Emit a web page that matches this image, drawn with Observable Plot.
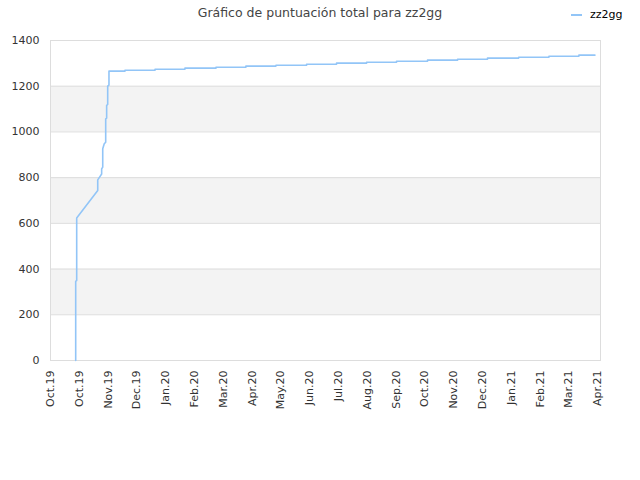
<!DOCTYPE html>
<html>
<head>
<meta charset="utf-8">
<script src="https://cdn.jsdelivr.net/npm/d3@7"></script>
<script src="https://cdn.jsdelivr.net/npm/@observablehq/plot@0.6"></script>
<style>
  html, body { margin: 0; padding: 0; background: #fff; }
  #wrap { position: relative; width: 640px; height: 480px; font-family: "DejaVu Sans", sans-serif; }
  #title { position: absolute; left: 0; top: 5px; width: 640px; text-align: center; font-size: 12.5px; color: #444; }
  #legend { position: absolute; left: 571px; top: 8px; font-size: 11px; color: #000; display: flex; align-items: center; }
  #legend .sw { width: 11px; height: 2px; background: #92c5f7; margin-right: 8px; }
  #chart { position: absolute; left: 0; top: 28px; }
</style>
</head>
<body>
<div id="wrap">
  <div id="title">Gráfico de puntuación total para zz2gg</div>
  <div id="legend"><span class="sw"></span><span>zz2gg</span></div>
  <div id="chart"></div>
</div>
<script>
const seriesName = "zz2gg";

// Early climb (timestamps and total score)
const earlyDates = [
  "2019-10-27T06:00", "2019-10-27T06:00", "2019-10-27T06:00", "2019-10-28T07:00",
  "2019-10-28T07:00", "2019-11-19T05:00", "2019-11-19T05:00", "2019-11-23T07:00",
  "2019-11-23T07:00", "2019-11-24T10:00", "2019-11-24T10:00", "2019-11-26T00:00",
  "2019-11-27T12:00", "2019-11-27T12:00", "2019-11-28T12:00", "2019-11-28T12:00",
  "2019-11-29T14:00", "2019-11-29T14:00", "2019-11-30T22:00", "2019-11-30T22:00"
];
const earlyScores = [
  0, 60, 347, 350,
  623, 744, 790, 816,
  838, 846, 926, 948,
  955, 1057, 1060, 1116,
  1120, 1200, 1205, 1266
];

// Monthly small increases afterwards
const stepDates = [
  "2019-12-17T14:00", "2020-01-17T22:00", "2020-02-18T02:00", "2020-03-21T10:00",
  "2020-04-21T14:00", "2020-05-22T22:00", "2020-06-23T19:00", "2020-07-25T00:00",
  "2020-08-25T07:00", "2020-09-25T12:00", "2020-10-27T19:00", "2020-11-28T02:00",
  "2020-12-29T07:00", "2021-01-30T19:00", "2021-03-03T07:00", "2021-04-03T12:00"
];
const stepScores = [
  1270, 1274, 1279, 1283, 1288, 1292, 1296, 1301,
  1305, 1309, 1314, 1318, 1323, 1327, 1331, 1336
];
const lastDate = "2021-04-20T05:00";

// Axis definitions
const xDomain = ["2019-10-01", "2021-04-26"];
const xTickDates = [
  "2019-10-01", "2019-10-31", "2019-11-30", "2019-12-30", "2020-01-29",
  "2020-02-28", "2020-03-29", "2020-04-28", "2020-05-28", "2020-06-27",
  "2020-07-27", "2020-08-26", "2020-09-25", "2020-10-25", "2020-11-24",
  "2020-12-24", "2021-01-23", "2021-02-22", "2021-03-24", "2021-04-23"
];
const xTickLabels = [
  "Oct.19", "Oct.19", "Nov.19", "Dec.19", "Jan.20",
  "Feb.20", "Mar.20", "Apr.20", "May.20", "Jun.20",
  "Jul.20", "Aug.20", "Sep.20", "Oct.20", "Nov.20",
  "Dec.20", "Jan.21", "Feb.21", "Mar.21", "Apr.21"
];
const yTicks = [0, 200, 400, 600, 800, 1000, 1200, 1400];
const bandLows = [200, 600, 1000];
const bandHighs = [400, 800, 1200];

const parse = s => new Date(s + (s.length === 10 ? "T00:00Z" : ":00Z"));

// Build the line table
const rows = earlyDates.map((d, i) => ({date: parse(d), score: earlyScores[i]}));
let prev = earlyScores[earlyScores.length - 1];
stepDates.forEach((d, i) => {
  rows.push({date: parse(d), score: prev});
  rows.push({date: parse(d), score: stepScores[i]});
  prev = stepScores[i];
});
rows.push({date: parse(lastDate), score: prev});

const bands = bandLows.map((lo, i) => ({lo, hi: bandHighs[i]}));
const tickDates = xTickDates.map(parse);
const labelOf = new Map(tickDates.map((d, i) => [+d, xTickLabels[i]]));

const chart = Plot.plot({
  width: 640,
  height: 452,
  marginTop: 12,
  marginLeft: 50,
  marginRight: 40,
  marginBottom: 120,
  style: {fontFamily: "DejaVu Sans, sans-serif", fontSize: "11px", color: "#333", background: "#fff"},
  x: {
    type: "utc",
    domain: xDomain.map(parse),
    label: null
  },
  y: {
    domain: [0, 1400],
    label: null
  },
  marks: [
    Plot.rectY(bands, {x1: () => parse(xDomain[0]), x2: () => parse(xDomain[1]), y1: "lo", y2: "hi", fill: "#f3f3f3"}),
    Plot.ruleY(yTicks, {stroke: "#dddddd", strokeWidth: 1}),
    Plot.frame({stroke: "#dddddd", strokeWidth: 1}),
    Plot.axisY({ticks: yTicks, tickFormat: d => String(d), tickSize: 0, tickPadding: 11, fill: "#333", label: null}),
    Plot.axisX({ticks: tickDates, tickFormat: d => labelOf.get(+d), tickRotate: -90, tickSize: 0, tickPadding: 10, fill: "#333", label: null}),
    Plot.line(rows, {x: "date", y: "score", stroke: "#92c5f7", strokeWidth: 1.6, curve: "linear"})
  ]
});
document.getElementById("chart").appendChild(chart);
</script>
</body>
</html>
